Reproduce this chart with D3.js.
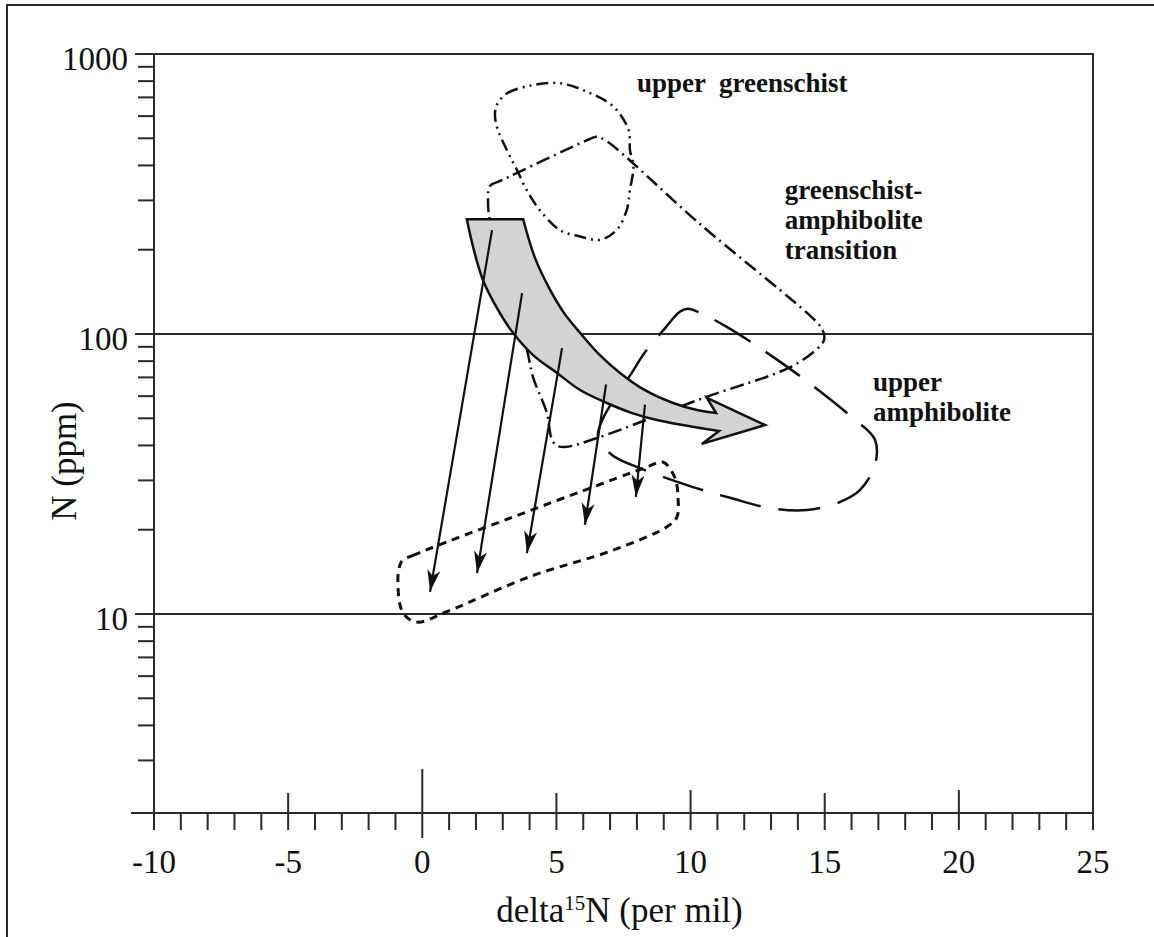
<!DOCTYPE html>
<html lang="en">
    <head>
        <meta charset="UTF-8" />
        <title>N (ppm) vs delta15N</title>
        <script src="https://d3js.org/d3.v7.min.js"></script>
        <style>
            body {
                margin: 0;
                padding: 0;
                background: #fff;
            }
            svg text {
                font-family: 'Liberation Serif', 'Times New Roman', serif;
                fill: #111;
            }
            .tick-label {
                font-size: 33px;
            }
            .axis-title {
                font-size: 35px;
            }
            .note {
                font-size: 27px;
                font-weight: bold;
                white-space: pre;
            }
            .frame,
            .axis-line,
            .grid,
            .tick {
                fill: none;
                stroke: #2a2a2a;
                stroke-width: 2px;
            }
            .field {
                fill: none;
                stroke: #111;
                stroke-width: 2.5px;
            }
            .field.greenschist {
                stroke-dasharray: 12, 5, 2, 5, 2, 5;
            }
            .field.transition {
                stroke-dasharray: 14, 5, 2, 5;
            }
            .field.amphibolite {
                stroke-dasharray: 42, 18;
            }
            .field.lower {
                stroke-width: 3px;
                stroke-dasharray: 8, 6;
            }
            .trend {
                fill: #d3d3d3;
                stroke: #111;
                stroke-width: 2.5px;
                stroke-linejoin: miter;
            }
            .shift {
                stroke: #111;
                stroke-width: 2.2px;
            }
        </style>
    </head>
    <body>
        <svg id="chart" width="1154" height="937"></svg>

        <script>
            // axis ticks
            const xTicks = [-10, -5, 0, 5, 10, 15, 20, 25];
            const yTicks = [10, 100, 1000];

            // fields, [delta15N, N ppm]
            const upperGreenschist = [
                [2.78, 658], [3.15, 723], [4.14, 775], [5.13, 786], [6.14, 733], [7.13, 648],
                [7.69, 535], [7.74, 454], [7.87, 396], [7.74, 327], [7.62, 277], [7.24, 235],
                [6.62, 217], [5.88, 223], [5.13, 235], [4.38, 277], [3.89, 327], [3.53, 385],
                [3.15, 454], [2.78, 549], [2.71, 614],
            ];
            const transition = [
                [2.45, 301], [2.52, 338], [2.9, 352], [6.25, 497], [6.5, 506], [6.81, 493],
                [10.35, 247], [14.63, 112], [14.93, 103], [14.97, 95], [14.67, 87.7], [13.7, 76],
                [10.46, 59], [6.51, 42.5], [5.32, 39.5], [4.98, 40.1], [4.8, 42.9], [4.65, 52],
                [4.13, 70], [3.9, 88], [3.08, 169], [2.52, 255],
            ];
            const upperAmphibolite = [
                [8.3, 86], [9.05, 105], [9.6, 120], [9.9, 123], [10.35, 119], [11.35, 106],
                [13.63, 76], [16.01, 50.5], [16.87, 42], [16.87, 34], [16.31, 27.7], [15.56, 25.1],
                [14.33, 23.5], [12.95, 23.9], [11.47, 26], [10.09, 28.4], [8.11, 33.2], [7.07, 37],
                [6.55, 42.9], [6.74, 50], [7.18, 59], [7.74, 71],
            ];
            const lowerField = [
                [-0.72, 15.6], [-0.35, 16.2], [0.92, 18.1], [3.38, 22.2], [5.88, 27.3], [8.38, 33.5],
                [8.97, 34.9], [9.42, 30.6], [9.53, 26.2], [9.49, 22.2], [9.12, 20.5], [7.11, 16.9],
                [4.01, 13.6], [0.92, 10.2], [-0.2, 9.36], [-0.72, 10.1], [-0.91, 13.2], [-0.83, 15.0],
            ];

            // big grey trend arrow
            const trendUpper = [
                [3.76, 257], [4.2, 187], [4.76, 144], [5.28, 119], [5.88, 101], [6.62, 84],
                [7.37, 72.6], [8.3, 63], [9.35, 56.7], [10.24, 53.5], [10.95, 52.2],
            ];
            const trendHead = [[10.61, 59.1], [12.78, 47.3], [10.42, 40.5], [11.06, 45.0]];
            const trendLower = [
                [10.35, 46.2], [8.75, 49.3], [7.82, 52.2], [6.88, 56.7], [5.88, 63.1], [5.02, 72.6],
                [4.13, 84.1], [3.38, 101], [2.78, 124], [2.26, 156], [1.92, 200], [1.66, 257],
            ];

            // thin arrows: start and end
            const shiftFrom = [[2.6, 235], [3.72, 140], [5.21, 89], [6.85, 66], [8.3, 56]];
            const shiftTo = [[0.29, 12.0], [2.04, 14.0], [3.9, 16.5], [6.06, 20.8], [7.96, 26.2]];

            // field labels
            const noteText = [['upper  greenschist'], ['greenschist-', 'amphibolite', 'transition'], ['upper', 'amphibolite']];
            const notePos = [[8.0, 732], [13.51, 303], [16.8, 62.6]];

            const svg = d3.select('#chart');
            const margin = { top: 54, right: 61, bottom: 124, left: 154 };
            const width = +svg.attr('width') - margin.left - margin.right;
            const height = +svg.attr('height') - margin.top - margin.bottom;

            // outer border of the figure
            svg.append('rect').attr('class', 'frame').attr('x', 7).attr('y', 5).attr('width', 1160).attr('height', 940);

            const g = svg.append('g').attr('transform', `translate(${margin.left},${margin.top})`);

            const x = d3.scaleLinear().domain([-10, 25]).range([0, width]);
            const y = d3.scaleLog().domain([1.947, 1000]).range([height, 0]);

            // grid lines at 10 and 100
            g.selectAll('.grid')
                .data(yTicks.filter((d) => d < 1000))
                .join('line')
                .attr('class', 'grid')
                .attr('x1', -19)
                .attr('x2', width)
                .attr('y1', (d) => y(d))
                .attr('y2', (d) => y(d));

            g.append('rect').attr('class', 'frame').attr('width', width).attr('height', height);
            g.append('line').attr('class', 'axis-line').attr('x1', -23).attr('x2', 0).attr('y1', height).attr('y2', height);

            // y ticks
            const yMinor = [];
            [1, 10, 100].forEach((dec) => d3.range(2, 10).forEach((k) => yMinor.push(k * dec)));
            g.selectAll('.y-minor')
                .data(yMinor.filter((d) => d > y.domain()[0] * 1.2))
                .join('line')
                .attr('class', 'tick y-minor')
                .attr('x1', -16)
                .attr('x2', 0)
                .attr('y1', (d) => y(d))
                .attr('y2', (d) => y(d));
            g.selectAll('.y-major')
                .data(yTicks)
                .join('line')
                .attr('class', 'tick y-major')
                .attr('x1', -19)
                .attr('x2', 0)
                .attr('y1', (d) => y(d))
                .attr('y2', (d) => y(d));
            g.selectAll('.y-label')
                .data(yTicks)
                .join('text')
                .attr('class', 'tick-label y-label')
                .attr('x', -26)
                .attr('y', (d) => y(d) + 16)
                .attr('text-anchor', 'end')
                .text((d) => d);

            // x ticks
            g.selectAll('.x-minor')
                .data(d3.range(-10, 26))
                .join('line')
                .attr('class', 'tick x-minor')
                .attr('x1', (d) => x(d))
                .attr('x2', (d) => x(d))
                .attr('y1', height)
                .attr('y2', (d) => height + (d === 0 ? 25 : 17));
            g.selectAll('.x-major')
                .data(xTicks.filter((d) => d > -10 && d < 25))
                .join('line')
                .attr('class', 'tick x-major')
                .attr('x1', (d) => x(d))
                .attr('x2', (d) => x(d))
                .attr('y1', height)
                .attr('y2', (d) => height - (d === 0 ? 44 : d % 10 === 0 ? 23 : 20));
            g.selectAll('.x-label')
                .data(xTicks)
                .join('text')
                .attr('class', 'tick-label x-label')
                .attr('x', (d) => x(d))
                .attr('y', height + 60)
                .attr('text-anchor', 'middle')
                .text((d) => d);

            // axis titles
            const xTitle = g
                .append('text')
                .attr('class', 'axis-title')
                .attr('x', width / 2 - 4)
                .attr('y', height + 109)
                .attr('text-anchor', 'middle');
            xTitle.append('tspan').text('delta');
            xTitle.append('tspan').attr('font-size', '21px').attr('dy', -12).text('15');
            xTitle.append('tspan').attr('dy', 12).text('N (per mil)');

            g.append('text')
                .attr('class', 'axis-title')
                .attr('transform', 'translate(-78,407) rotate(-90)')
                .attr('text-anchor', 'middle')
                .text('N (ppm)');

            // fields
            const closed = d3
                .line()
                .x((d) => x(d[0]))
                .y((d) => y(d[1]))
                .curve(d3.curveCatmullRomClosed.alpha(0.5));

            g.append('path').attr('class', 'field greenschist').attr('d', closed(upperGreenschist));
            g.append('path').attr('class', 'field transition').attr('d', closed(transition));
            g.append('path').attr('class', 'field amphibolite').attr('d', closed(upperAmphibolite));
            g.append('path').attr('class', 'field lower').attr('d', closed(lowerField));

            // grey trend arrow
            const edge = d3
                .line()
                .x((d) => x(d[0]))
                .y((d) => y(d[1]))
                .curve(d3.curveCatmullRom.alpha(0.5));
            const straight = d3
                .line()
                .x((d) => x(d[0]))
                .y((d) => y(d[1]));
            const trendPath =
                edge(trendUpper) + straight(trendHead).replace('M', 'L') + edge(trendLower).replace('M', 'L') + 'Z';
            g.append('path').attr('class', 'trend').attr('d', trendPath);

            // thin arrows
            svg.append('defs')
                .append('marker')
                .attr('id', 'head')
                .attr('viewBox', '-23 -8 24 16')
                .attr('refX', 0)
                .attr('refY', 0)
                .attr('markerUnits', 'userSpaceOnUse')
                .attr('markerWidth', 24)
                .attr('markerHeight', 16)
                .attr('orient', 'auto')
                .append('path')
                .attr('d', 'M0,0 L-22,-6.5 L-16,0 L-22,6.5 Z')
                .attr('fill', '#111');

            g.selectAll('.shift')
                .data(shiftFrom)
                .join('line')
                .attr('class', 'shift')
                .attr('x1', (d) => x(d[0]))
                .attr('y1', (d) => y(d[1]))
                .attr('x2', (d, i) => x(shiftTo[i][0]))
                .attr('y2', (d, i) => y(shiftTo[i][1]))
                .attr('marker-end', 'url(#head)');

            // field labels
            noteText.forEach((lines, i) => {
                const t = g
                    .append('text')
                    .attr('class', 'note')
                    .attr('x', x(notePos[i][0]))
                    .attr('y', y(notePos[i][1]));
                lines.forEach((s, j) => {
                    t.append('tspan')
                        .attr('x', x(notePos[i][0]))
                        .attr('dy', j === 0 ? 0 : 30)
                        .text(s);
                });
            });
        </script>
    </body>
</html>
